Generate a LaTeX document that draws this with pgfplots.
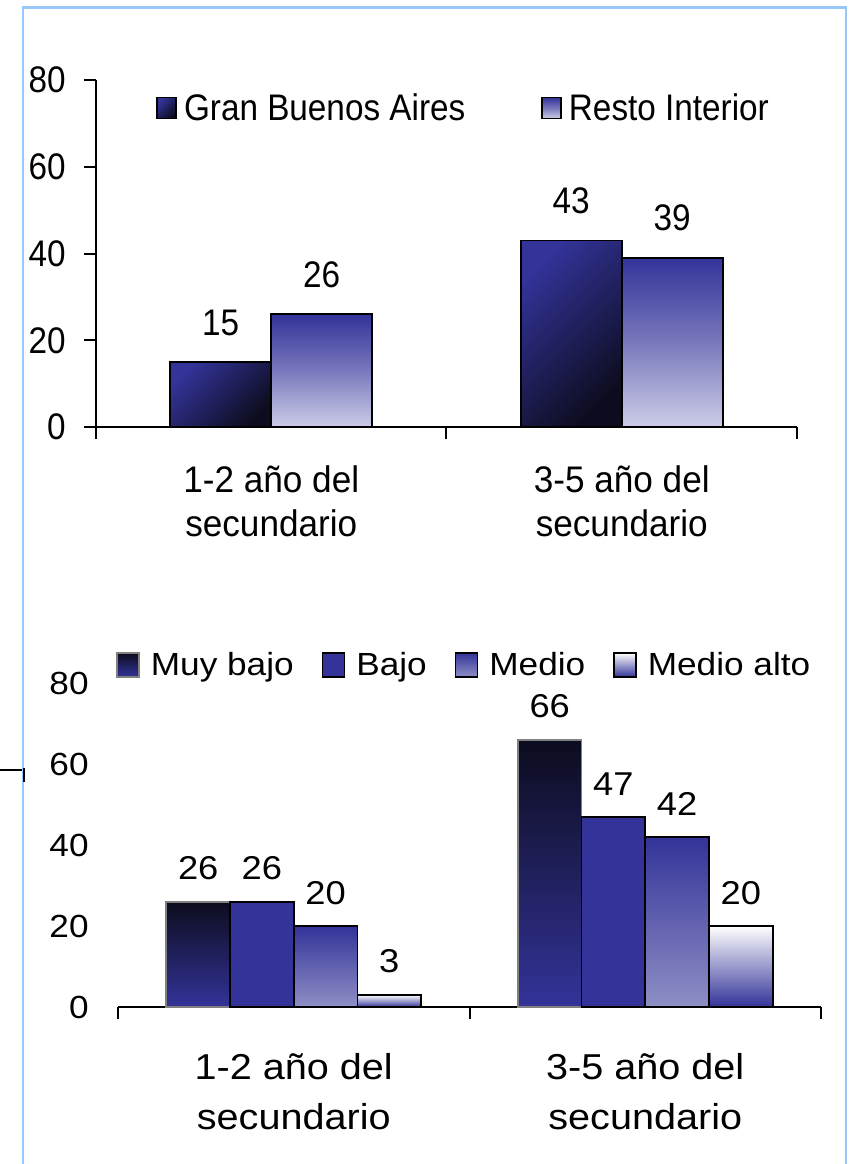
\documentclass[border=0pt]{standalone}
\usepackage{fontspec}
\setmainfont{Liberation Sans}[FakeStretch=0.9]
\newfontfamily\catf{Liberation Sans}[FakeStretch=0.95]
\newfontfamily\botf{Liberation Sans}[FakeStretch=1.1]
\usepackage{pgfplots}
\pgfplotsset{compat=1.18}

\definecolor{navy}{RGB}{51,51,153}
\definecolor{ink}{RGB}{12,12,30}
\definecolor{lav}{RGB}{205,205,232}
\definecolor{midlav}{RGB}{143,143,198}
\definecolor{edge}{RGB}{150,200,250}
\newcommand{\fnt}{\fontsize{18.5}{22}\selectfont}
\newcommand{\bfnt}{\botf\fontsize{16}{19}\selectfont}

\pgfplotsset{
  panel/.style={
    scale only axis,
    axis lines*=left, axis line style={-, line width=1pt},
    xmin=-0.5, xmax=1.5, ymin=0, ymax=80, ytick={0,20,40,60,80},
    xtick={-0.5,0.5,1.5}, xticklabels={},
    extra x ticks={0,1},
    extra x tick labels={{1-2 año del\\secundario},{3-5 año del\\secundario}},
    tick align=outside, major tick length=6pt,
    tick style={black, line width=1pt},
    /pgf/number format/assume math mode=true,
    yticklabel style={inner sep=0pt, anchor=east},
    nodes near coords,
    legend style={draw=none, fill=none, inner sep=0pt},
    legend cell align=left,
    clip=false,
  },
  % one bar per plot, so that each bar gets its own shading
  tbar/.style={ybar, bar width=50.5pt, bar shift=#1, draw=black, line width=0.9pt,
    every node near coord/.append style={xshift=#1},
    legend image code/.code={\draw[##1,/tikz/.cd,line width=0.8pt] (0pt,-5.25pt) rectangle (9.5pt,5.25pt);}},
  bbar/.style={ybar, bar width=31.85pt, bar shift=#1, draw=black, line width=0.9pt,
    every node near coord/.append style={xshift=#1},
    legend image code/.code={\draw[##1,/tikz/.cd,line width=0.8pt] (0pt,-6pt) rectangle (11pt,6pt);}},
}

\begin{document}
\begin{tikzpicture}
% frame of the sheet
\draw[edge, line width=1.2pt] (11.35pt,-582pt) -- (11.35pt,-3.65pt) -- (423pt,-3.65pt) -- (423pt,-582pt);
\draw[black, line width=1pt] (0pt,-385pt) -- (11pt,-385pt) (12pt,-384pt) -- (12pt,-391pt);

% top: region
\begin{axis}[panel,
  at={(48pt,-213.5pt)}, anchor=south west,
  width=350.5pt, height=173.5pt,
  ticklabel style={font=\fnt},
  every node near coord/.append style={font=\fnt, yshift=9.5pt},
  extra x tick style={major tick length=0pt,
    xticklabel style={align=center, anchor=north, inner sep=0pt, yshift=-19pt,
      font=\catf\fontsize{18.5}{22}\selectfont}},
  yticklabel style={xshift=-9pt},
  legend columns=2,
  legend style={at={(0.0856,0.919)}, anchor=west, font=\fnt,
    /tikz/every odd column/.append style={column sep=1.5pt},
    /tikz/every even column/.append style={column sep=36pt}},
]
\addplot[tbar=-25.25pt, top color=navy, bottom color=ink, shading angle=45]
  coordinates {(0,15)};
\addlegendentry{Gran Buenos Aires}
\addplot[tbar=-25.25pt, top color=navy, bottom color=ink, shading angle=45, forget plot]
  coordinates {(1,43)};
\addplot[tbar=25.25pt, top color=navy, bottom color=lav, middle color=lav!45!navy]
  coordinates {(0,26)};
\addlegendentry{Resto Interior}
\addplot[tbar=25.25pt, top color=navy, bottom color=lav, middle color=lav!45!navy, forget plot]
  coordinates {(1,39)};
\end{axis}

% bottom: socio-economic level
\begin{axis}[panel,
  at={(59pt,-503.5pt)}, anchor=south west,
  width=351.5pt, height=162pt,
  y axis line style={draw=none}, ytick style={draw=none},
  ticklabel style={font=\bfnt},
  every node near coord/.append style={font=\botf\fontsize{16.5}{19}\selectfont, yshift=7pt},
  extra x tick style={major tick length=0pt,
    xticklabel style={align=center, anchor=north, inner sep=0pt, yshift=-23pt,
      font=\botf\fontsize{18}{25}\selectfont}},
  yticklabel style={xshift=-8.5pt},
  legend columns=4,
  legend style={at={(-0.003,1.0556)}, anchor=west, font=\bfnt,
    /tikz/every odd column/.append style={column sep=3.5pt},
    /tikz/every even column/.append style={column sep=12pt}},
]
\addplot[bbar=-47.775pt, draw=gray, top color=ink, bottom color=navy]
  coordinates {(0,26)};
\addlegendentry{Muy bajo}
\addplot[bbar=-47.775pt, draw=gray, top color=ink, bottom color=navy, forget plot]
  coordinates {(1,66)};
\addplot[bbar=-15.925pt, fill=navy]
  coordinates {(0,26)};
\addlegendentry{Bajo}
\addplot[bbar=-15.925pt, fill=navy, forget plot]
  coordinates {(1,47)};
\addplot[bbar=15.925pt, top color=navy, bottom color=midlav]
  coordinates {(0,20)};
\addlegendentry{Medio}
\addplot[bbar=15.925pt, top color=navy, bottom color=midlav, forget plot]
  coordinates {(1,42)};
\addplot[bbar=47.775pt, top color=white, bottom color=navy]
  coordinates {(0,3)};
\addlegendentry{Medio alto}
\addplot[bbar=47.775pt, top color=white, bottom color=navy, forget plot]
  coordinates {(1,20)};
\end{axis}

\pgfresetboundingbox
\useasboundingbox (0pt,0pt) rectangle (426pt,-582pt);
\end{tikzpicture}
\end{document}
